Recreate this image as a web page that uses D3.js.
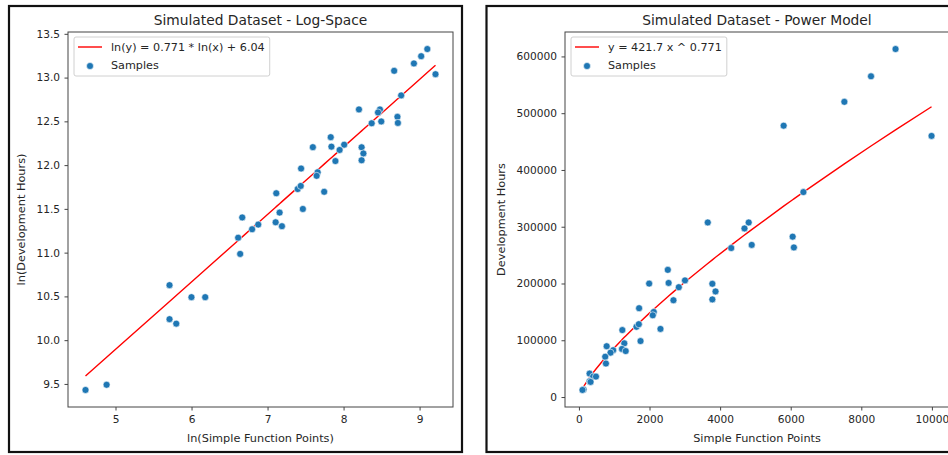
<!DOCTYPE html>
<meta charset="utf-8">
<title>Simulated Dataset - Log-Space / Power Model</title>
<style>
body { margin: 0; background: #fff; }
svg text { font-family: "DejaVu Sans", sans-serif; fill: #262626; }
.frame { fill: #fff; stroke: #111; stroke-width: 2.2px; }
.spine { fill: none; stroke: #444; stroke-width: 1px; }
.axis path { display: none; }
.axis line { stroke: #444; }
.axis text { font-size: 10.6px; }
.title { font-size: 13.8px; }
.label { font-size: 11.3px; }
.fit { fill: none; stroke: #ff0000; stroke-width: 1.4px; }
.dot { fill: #1f77b4; stroke: #fff; stroke-width: 0.6px; }
.legend rect { fill: #fff; fill-opacity: 0.8; stroke: #d0d0d0; }
.legend text { font-size: 11.2px; }
</style>
<body>
<div id="chart"></div>
<script src="https://cdn.jsdelivr.net/npm/d3@7"></script>
<script>

// samples: simple function points vs development hours
const sfp = [9990, 8970, 8275, 7520, 5800, 6360, 3650, 4810, 4690, 4895,
             4315, 6055, 6090, 2518, 2541, 3005, 2830, 1990, 3780, 3870,
             3780, 2678, 1705, 2120, 2092, 2310, 1230, 1630, 1697, 1745,
             1285, 786, 1220, 970, 1325, 895, 745, 765, 302, 403,
             483, 302, 330, 132, 100];
const hours = [460000, 613000, 565000, 520000, 478000, 361000, 307500, 307500, 297000, 268000,
               262500, 282500, 263500, 224000, 201000, 205500, 193500, 199800, 199500, 186000,
               172000, 170500, 156500, 150000, 144000, 120000, 118000, 123800, 128300, 98600,
               94600, 89500, 84700, 82500, 81000, 78200, 71000, 59000, 41300, 36000,
               36000, 28000, 26600, 13230, 12470];

// fitted model from the legend
const slope = 0.771;
const intercept = 6.04;
const coef = 421.7;

const logXTicks = [5, 6, 7, 8, 9];
const logYTicks = [9.5, 10, 10.5, 11, 11.5, 12, 12.5, 13, 13.5];
const xTicks = [0, 2000, 4000, 6000, 8000, 10000];
const yTicks = [0, 100000, 200000, 300000, 400000, 500000, 600000];

const width = 948, height = 455;

const svg = d3.select("#chart").append("svg")
    .attr("width", width)
    .attr("height", height);

// pad a domain by 5% like matplotlib's default margins
function padded(vals) {
    const [lo, hi] = d3.extent(vals);
    const p = (hi - lo) * 0.05;
    return [lo - p, hi + p];
}

function drawPanel(opt) {
    const g = svg.append("g");

    g.append("rect").attr("class", "frame")
        .attr("x", opt.frame[0]).attr("y", opt.frame[1])
        .attr("width", opt.frame[2]).attr("height", opt.frame[3]);

    const x = d3.scaleLinear().domain(padded(opt.xs)).range([opt.left, opt.right]);
    const y = d3.scaleLinear().domain(padded(opt.ys)).range([opt.bottom, opt.top]);

    // fit line evaluated at the sorted sample x values
    const sorted = opt.xs.slice().sort(d3.ascending);
    g.append("path").attr("class", "fit")
        .datum(sorted)
        .attr("d", d3.line().x(d => x(d)).y(d => y(opt.model(d))));

    g.selectAll(".dot").data(d3.range(opt.xs.length)).enter()
        .append("circle").attr("class", "dot")
        .attr("cx", i => x(opt.xs[i]))
        .attr("cy", i => y(opt.ys[i]))
        .attr("r", 3.5);

    g.append("g").attr("class", "axis")
        .attr("transform", `translate(0,${opt.bottom})`)
        .call(d3.axisBottom(x).tickValues(opt.xTicks).tickSize(3.5).tickPadding(4.5).tickFormat(opt.xFormat));

    g.append("g").attr("class", "axis")
        .attr("transform", `translate(${opt.left},0)`)
        .call(d3.axisLeft(y).tickValues(opt.yTicks).tickSize(3.5).tickPadding(4.5).tickFormat(opt.yFormat));

    g.append("rect").attr("class", "spine")
        .attr("x", opt.left).attr("y", opt.top)
        .attr("width", opt.right - opt.left).attr("height", opt.bottom - opt.top);

    const cx = (opt.left + opt.right) / 2;
    g.append("text").attr("class", "title")
        .attr("x", cx).attr("y", opt.top - 7)
        .attr("text-anchor", "middle")
        .text(opt.title);

    g.append("text").attr("class", "label")
        .attr("x", cx).attr("y", opt.bottom + 34.5)
        .attr("text-anchor", "middle")
        .text(opt.xLabel);

    g.append("text").attr("class", "label")
        .attr("transform", `translate(${opt.yLabelX},${(opt.top + opt.bottom) / 2}) rotate(-90)`)
        .attr("text-anchor", "middle")
        .text(opt.yLabel);

    // legend
    const lg = g.append("g").attr("class", "legend")
        .attr("transform", `translate(${opt.left + 6},${opt.top + 5})`);
    const box = lg.append("rect").attr("rx", 2).attr("height", 39);
    lg.append("line")
        .attr("x1", 4).attr("x2", 28).attr("y1", 10).attr("y2", 10)
        .attr("stroke", "#ff0000").attr("stroke-width", 1.4);
    lg.append("circle").attr("class", "dot").attr("cx", 16).attr("cy", 29).attr("r", 3.5);
    const t1 = lg.append("text").attr("x", 37).attr("y", 10).attr("dy", "0.35em").text(opt.fitLabel);
    lg.append("text").attr("x", 37).attr("y", 28).attr("dy", "0.35em").text("Samples");
    box.attr("width", 37 + t1.node().getComputedTextLength() + 5);
}

drawPanel({
    frame: [9, 6, 453, 446],
    left: 68, right: 453, top: 32, bottom: 407,
    xs: sfp.map(Math.log),
    ys: hours.map(Math.log),
    model: d => slope * d + intercept,
    xTicks: logXTicks, yTicks: logYTicks,
    xFormat: d3.format("d"), yFormat: d3.format(".1f"),
    title: "Simulated Dataset - Log-Space",
    xLabel: "ln(Simple Function Points)",
    yLabel: "ln(Development Hours)",
    yLabelX: 25,
    fitLabel: "ln(y) = 0.771 * ln(x) + 6.04"
});

drawPanel({
    frame: [486.5, 6, 500, 446],
    left: 565, right: 949, top: 32, bottom: 407,
    xs: sfp,
    ys: hours,
    model: d => coef * Math.pow(d, slope),
    xTicks: xTicks, yTicks: yTicks,
    xFormat: d3.format("d"), yFormat: d3.format("d"),
    title: "Simulated Dataset - Power Model",
    xLabel: "Simple Function Points",
    yLabel: "Development Hours",
    yLabelX: 505,
    fitLabel: "y = 421.7 x ^ 0.771"
});

</script>
</body>
